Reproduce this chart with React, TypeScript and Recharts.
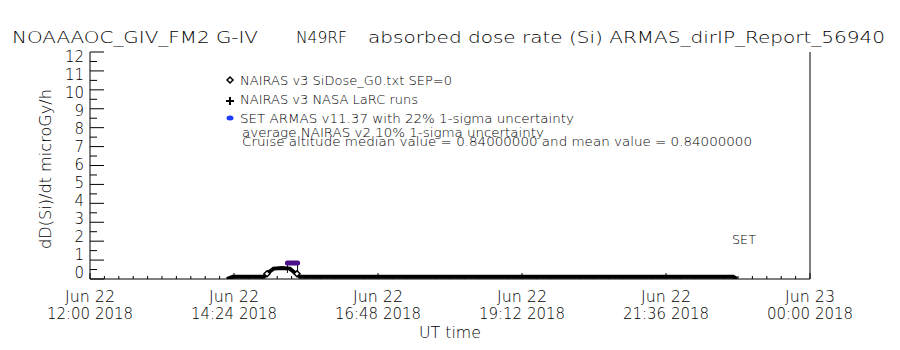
import { ComposedChart, Line, Scatter, XAxis, YAxis, ErrorBar, Customized } from 'recharts';

// x values are UT hours on Jun 22 (24 = Jun 23 00:00)
const xMajorTicks = [12, 14.4, 16.8, 19.2, 21.6, 24];
const xTickDates = ['Jun 22', 'Jun 22', 'Jun 22', 'Jun 22', 'Jun 22', 'Jun 23'];
const xTickTimes = ['12:00 2018', '14:24 2018', '16:48 2018', '19:12 2018', '21:36 2018', '00:00 2018'];
const yMajorTicks = [0, 1, 2, 3, 4, 5, 6, 7, 8, 9, 10, 11, 12];

// NAIRAS v3 dose rate along the flight
const nairasT = [14.28, 14.38, 14.9, 14.96, 15.06, 15.2, 15.33, 15.42, 15.5, 18.0, 20.5, 22.72, 22.78];
const nairasV = [0.0, 0.12, 0.12, 0.32, 0.55, 0.58, 0.55, 0.32, 0.12, 0.12, 0.12, 0.12, 0.0];

// diamond markers
const diamondT = [14.95, 15.45];
const diamondV = [0.28, 0.28];

// SET ARMAS measurements
const armasT = [15.29, 15.37, 15.46];
const armasV = [0.84, 0.84, 0.84];
const armasLow = [0.52, 0, 0.52];

const titleParts = ['NOAAAOC_GIV_FM2 G-IV', 'N49RF', 'absorbed dose rate (Si) ARMAS_dirIP_Report_56940'];

const legendLines = [
  'NAIRAS v3 SiDose_G0.txt SEP=0',
  'NAIRAS v3 NASA LaRC runs',
  'SET ARMAS v11.37 with 22% 1-sigma uncertainty',
  'average NAIRAS v2 10% 1-sigma uncertainty',
  'Cruise altitude median value = 0.84000000 and mean value = 0.84000000',
];

const nairasData = nairasT.map((t, i) => ({ t, v: nairasV[i] }));
const diamondData = diamondT.map((t, i) => ({ t, v: diamondV[i] }));
const armasData = armasT.map((t, i) => ({ t, v: armasV[i], err: [armasLow[i], 0] }));

// minor ticks: 10 per major on x, 2 per major on y
const xTicks: number[] = [];
for (let i = 0; i <= 50; i++) xTicks.push(12 + i * 0.24);
const yTicks: number[] = [];
for (let i = 0; i <= 24; i++) yTicks.push(i * 0.5);

const FONT = '"DejaVu Sans", "Liberation Sans", sans-serif';
const W = 200;

const BottomTick = (props: any) => {
  const { x, y, index } = props;
  const major = index % 10 === 0;
  const k = index / 10;
  return (
    <g>
      <line x1={x} y1={y} x2={x} y2={y - (major ? 6 : 3)} stroke="#000" />
      {major && (
        <g fontFamily={FONT} fontWeight={W} fontSize={15} fill="#000">
          <text x={x} y={302} textAnchor="middle" textLength={50} lengthAdjust="spacingAndGlyphs">{xTickDates[k]}</text>
          <text x={x} y={319} textAnchor="middle" textLength={86} lengthAdjust="spacingAndGlyphs">{xTickTimes[k]}</text>
        </g>
      )}
    </g>
  );
};

const TopTick = (props: any) => {
  const { x, y, index } = props;
  const major = index % 10 === 0;
  return <line x1={x} y1={y} x2={x} y2={y + (major ? 6 : 3)} stroke="#000" />;
};

const LeftTick = (props: any) => {
  const { x, y, index } = props;
  const major = index % 2 === 0;
  const v = index / 2;
  const off = -6 + (11 * v) / 12;
  return (
    <g>
      <line x1={x} y1={y} x2={x + (major ? 14 : 7)} y2={y} stroke="#000" />
      {major && (
        <text x={84} y={y + off} dy="0.36em" textAnchor="end" fontFamily={FONT} fontWeight={W} fontSize={15} fill="#000">
          {yMajorTicks[v]}
        </text>
      )}
    </g>
  );
};

const RightTick = (props: any) => {
  const { x, y, index } = props;
  const major = index % 2 === 0;
  return <line x1={x} y1={y} x2={x - (major ? 14 : 7)} y2={y} stroke="#000" />;
};

const Diamond = (props: any) => {
  const { cx, cy } = props;
  return <path d={`M${cx},${cy - 3} L${cx + 3},${cy} L${cx},${cy + 3} L${cx - 3},${cy} Z`} fill="#fff" stroke="#000" strokeWidth={1.5} />;
};

const Annotations = () => (
  <g fontFamily={FONT} fontWeight={W} fill="#000">
    <g fontSize={16}>
      <text x={12} y={43} textLength={246} lengthAdjust="spacingAndGlyphs">{titleParts[0]}</text>
      <text x={296} y={43} textLength={51} lengthAdjust="spacingAndGlyphs">{titleParts[1]}</text>
      <text x={368} y={43} textLength={517} lengthAdjust="spacingAndGlyphs">{titleParts[2]}</text>
    </g>
    <text
      transform="translate(46,169) rotate(-90)"
      textAnchor="middle"
      dy="0.36em"
      fontSize={15}
      textLength={160}
      lengthAdjust="spacingAndGlyphs"
    >
      dD(Si)/dt microGy/h
    </text>
    <text x={450} y={338} textAnchor="middle" fontSize={15} textLength={62} lengthAdjust="spacingAndGlyphs">
      UT time
    </text>
    <text x={744} y={244} textAnchor="middle" fontSize={13} textLength={24} lengthAdjust="spacingAndGlyphs">
      SET
    </text>
    {/* legend symbols */}
    <path d="M230,77 L233,80 L230,83 L227,80 Z" fill="#fff" stroke="#000" strokeWidth={1.5} />
    <path d="M226,101 L234,101 M230,97 L230,105" stroke="#000" strokeWidth={2} />
    <ellipse cx={230} cy={118} rx={3.5} ry={2.5} fill="#1e3cff" />
    <g fontSize={13}>
      <text x={240} y={85} textLength={212} lengthAdjust="spacingAndGlyphs">{legendLines[0]}</text>
      <text x={240} y={104} textLength={178} lengthAdjust="spacingAndGlyphs">{legendLines[1]}</text>
      <text x={240} y={123} textLength={334} lengthAdjust="spacingAndGlyphs">{legendLines[2]}</text>
      <text x={242} y={137} textLength={302} lengthAdjust="spacingAndGlyphs">{legendLines[3]}</text>
      <text x={242} y={146} textLength={510} lengthAdjust="spacingAndGlyphs">{legendLines[4]}</text>
    </g>
  </g>
);

export default function App() {
  return (
    <div style={{ position: 'absolute', left: 0, top: 0, width: 900, height: 350, background: '#fff' }}>
      <ComposedChart width={900} height={350} margin={{ top: 52, right: 0, bottom: 0, left: 0 }}>
        <XAxis
          xAxisId="b"
          type="number"
          dataKey="t"
          domain={[12, 24]}
          ticks={xTicks}
          interval={0}
          height={71}
          tickSize={0}
          tickMargin={0}
          tickLine={false}
          axisLine={{ stroke: '#000' }}
          tick={<BottomTick />}
          allowDataOverflow
        />
        <XAxis
          xAxisId="top"
          orientation="top"
          type="number"
          dataKey="t"
          domain={[12, 24]}
          ticks={xTicks}
          interval={0}
          height={0}
          tickSize={0}
          tickMargin={0}
          tickLine={false}
          axisLine={{ stroke: '#000' }}
          tick={<TopTick />}
        />
        <YAxis
          yAxisId="l"
          type="number"
          domain={[0, 12]}
          ticks={yTicks}
          interval={0}
          width={90}
          tickSize={0}
          tickMargin={0}
          tickLine={false}
          axisLine={{ stroke: '#000' }}
          tick={<LeftTick />}
          allowDataOverflow
        />
        <YAxis
          yAxisId="r"
          orientation="right"
          type="number"
          domain={[0, 12]}
          ticks={yTicks}
          interval={0}
          width={90}
          tickSize={0}
          tickMargin={0}
          tickLine={false}
          axisLine={{ stroke: '#000' }}
          tick={<RightTick />}
        />
        <Line
          xAxisId="b"
          yAxisId="l"
          data={nairasData}
          dataKey="v"
          stroke="#000"
          strokeWidth={4}
          dot={false}
          isAnimationActive={false}
        />
        <Scatter
          xAxisId="b"
          yAxisId="l"
          data={diamondData}
          dataKey="v"
          shape={<Diamond />}
          isAnimationActive={false}
        />
        <Line
          xAxisId="b"
          yAxisId="l"
          data={armasData}
          dataKey="v"
          stroke="#4a128a"
          strokeWidth={5}
          strokeLinecap="round"
          dot={false}
          isAnimationActive={false}
        >
          <ErrorBar dataKey="err" width={0} stroke="#000" strokeWidth={1} direction="y" />
        </Line>
        <Customized component={Annotations} />
      </ComposedChart>
    </div>
  );
}
